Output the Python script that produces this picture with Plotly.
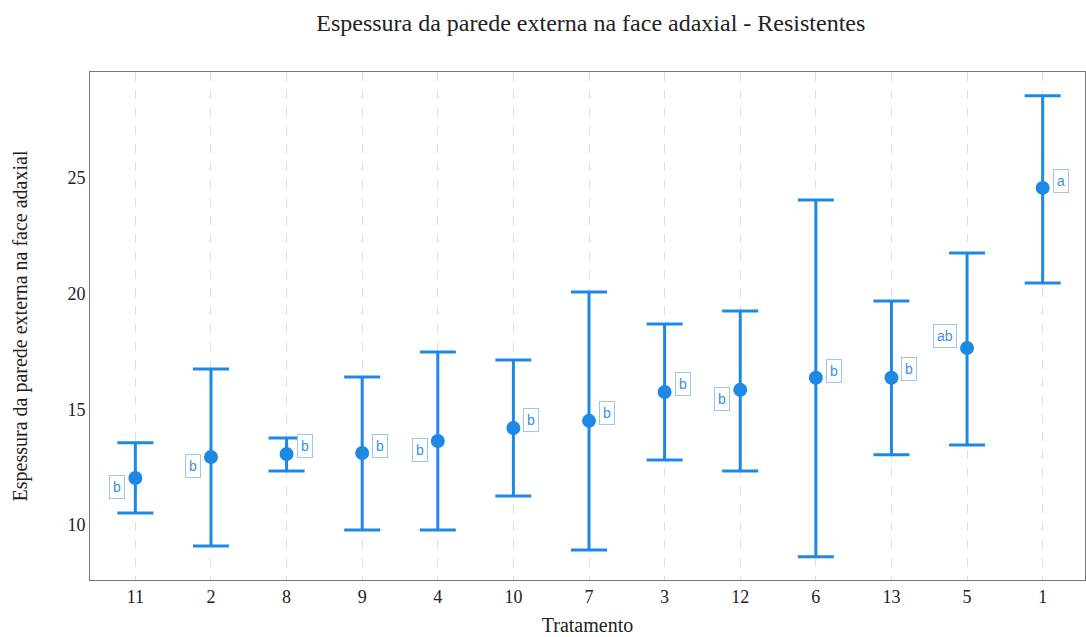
import plotly.graph_objects as go

tratamentos = ["11", "2", "8", "9", "4", "10", "7", "3", "12", "6", "13", "5", "1"]
medias = [12.03, 12.94, 13.07, 13.11, 13.63, 14.19, 14.50, 15.75, 15.84, 16.36, 16.36, 17.65, 24.57]
superior = [13.55, 16.74, 13.76, 16.40, 17.48, 17.13, 20.07, 18.69, 19.25, 24.05, 19.68, 21.76, 28.55]
inferior = [10.52, 9.09, 12.33, 9.78, 9.78, 11.25, 8.92, 12.81, 12.33, 8.62, 13.03, 13.46, 20.46]
letras = ["b", "b", "b", "b", "b", "b", "b", "b", "b", "b", "b", "ab", "a"]
lado = [-1, -1, 1, 1, -1, 1, 1, 1, -1, 1, 1, -1, 1]
desloc_v = [-9, -9, 8, 7, -9, 8, 8, 8, -9, 7, 9, 12, 7]

azul = "#1E88E5"

fig = go.Figure()
fig.add_trace(go.Scatter(
    x=tratamentos, y=medias, mode="markers",
    marker=dict(color=azul, size=14),
    error_y=dict(type="data", symmetric=False,
                 array=[s - m for s, m in zip(superior, medias)],
                 arrayminus=[m - i for m, i in zip(medias, inferior)],
                 color=azul, thickness=3, width=18),
    showlegend=False,
))

for i, (m, l, s, dv) in enumerate(zip(medias, letras, lado, desloc_v)):
    fig.add_annotation(
        x=i, y=m, text=l, showarrow=False,
        xshift=s * (18 if len(l) == 1 else 22), yshift=dv,
        font=dict(family="Liberation Sans, Arial", size=14, color="#3b8fe0"),
        bordercolor="#9cc6f0", borderwidth=1, borderpad=3,
        bgcolor="white",
    )

fig.update_layout(
    width=1086, height=637,
    margin=dict(l=90, r=1, t=72, b=57),
    paper_bgcolor="white", plot_bgcolor="white",
    title=dict(text="Espessura da parede externa na face adaxial - Resistentes",
               x=0.544, xanchor="center", y=0.965, yanchor="middle",
               font=dict(family="Liberation Serif, Times New Roman", size=24, color="#222")),
    font=dict(family="Liberation Serif, Times New Roman", color="#222"),
    xaxis=dict(
        title=dict(text="Tratamento", font=dict(size=20), standoff=12),
        type="category", categoryorder="array", categoryarray=tratamentos,
        range=[-0.6, 12.56],
        showgrid=True, gridcolor="#dedede", griddash="dash", gridwidth=1,
        showline=True, linecolor="#777", linewidth=1, mirror=True,
        ticks="", tickfont=dict(size=18), zeroline=False,
    ),
    yaxis=dict(
        title=dict(text="Espessura da parede externa na face adaxial", font=dict(size=20), standoff=34),
        range=[7.62, 29.58], tickvals=[10, 15, 20, 25],
        showgrid=False, zeroline=False,
        showline=True, linecolor="#777", linewidth=1, mirror=True,
        ticks="", tickfont=dict(size=18),
    ),
)

fig.write_html("out.html")
